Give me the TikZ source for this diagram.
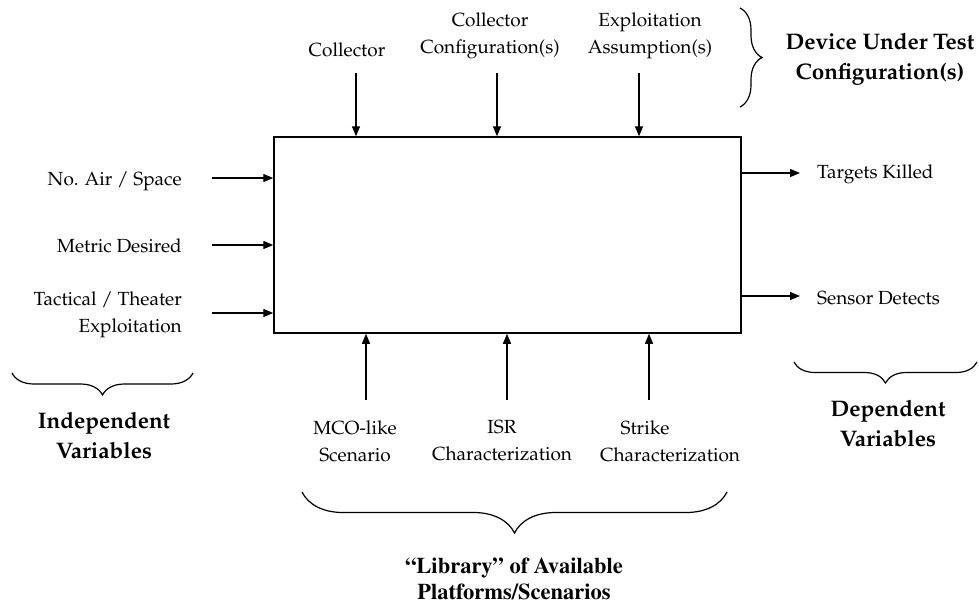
\documentclass[tikz,border=0pt]{standalone}
\usepackage[T1]{fontenc}
\usepackage{mathpazo}
\usetikzlibrary{arrows.meta,decorations.pathreplacing}
\tikzset{
  lbl/.style={inner sep=0pt, font=\fontsize{19}{27}\selectfont, align=center},
  blbl/.style={inner sep=0pt, font=\fontsize{22.5}{30}\selectfont\bfseries, align=center},
  tlbl/.style={inner sep=0pt, font=\fontfamily{ptm}\fontsize{22.5}{26}\selectfont\bfseries, align=center},
  arr/.style={line width=1.3pt, -{Triangle[length=10pt,width=8pt]}},
  brc/.style={line width=1.2pt, decorate},
  mainbox/.style={draw, line width=1.5pt, minimum width=467pt, minimum height=196pt, inner sep=0pt}
}
\begin{document}
\begin{tikzpicture}[x=1pt,y=-1pt]
\useasboundingbox (0,0) rectangle (979,605);
\node[mainbox] (box) at (507.5,235) {};
% top labels
\node[lbl] (t1) at (347,50) {Collector};
\node[lbl] (t2) at (490,36) {Collector\\Configuration(s)};
\node[lbl] (t3) at (650,36) {Exploitation\\Assumption(s)};
\coordinate (a1) at (356,73);
\coordinate (a2) at (497,73);
\coordinate (a3) at (639,73);
\draw[arr] (a1) -- (a1 |- box.north);
\draw[arr] (a2) -- (a2 |- box.north);
\draw[arr] (a3) -- (a3 |- box.north);
% left labels
\node[lbl, anchor=east] (l1) at (182,181) {No. Air / Space};
\node[lbl, anchor=east] (l2) at (182,246) {Metric Desired};
\node[lbl, anchor=east, align=right] (l3) at (182,315) {Tactical / Theater\\Exploitation};
\coordinate (b1) at (212,178);
\coordinate (b2) at (212,245);
\coordinate (b3) at (212,313);
\draw[arr] (b1) -- (b1 -| box.west);
\draw[arr] (b2) -- (b2 -| box.west);
\draw[arr] (b3) -- (b3 -| box.west);
% right labels
\node[lbl, anchor=west] (r1) at (817,174) {Targets Killed};
\node[lbl, anchor=west] (r2) at (817,298) {Sensor Detects};
\coordinate (c1) at (800,173);
\coordinate (c2) at (800,296);
\draw[arr] (c1 -| box.east) -- (c1);
\draw[arr] (c2 -| box.east) -- (c2);
% bottom labels
\node[lbl] (u1) at (355,441) {MCO-like\\Scenario};
\node[lbl] (u2) at (502,441) {ISR\\Characterization};
\node[lbl] (u3) at (670,441) {\hspace*{-50pt}Strike\\Characterization};
\coordinate (d1) at (366,400);
\coordinate (d2) at (507,400);
\coordinate (d3) at (649,400);
\draw[arr] (d1) -- (d1 |- box.south);
\draw[arr] (d2) -- (d2 |- box.south);
\draw[arr] (d3) -- (d3 |- box.south);
% braces
\coordinate (ta) at (740,8);
\coordinate (tb) at (740,107);
\draw[brc, decoration={brace, amplitude=22pt}] (ta) -- (tb);
\node[blbl] (dut) at (880,59) {Device Under Test\\Configuration(s)};
\coordinate (la) at (12,373);
\coordinate (lb) at (193,373);
\draw[brc, decoration={brace, amplitude=22pt}] (lb) -- (la);
\node[blbl] (iv) at (104,435) {Independent\\Variables};
\coordinate (ra) at (794,362);
\coordinate (rb) at (977,362);
\draw[brc, decoration={brace, amplitude=21pt}] (rb) -- (ra);
\node[blbl] (dv) at (888,423) {Dependent\\Variables};
\coordinate (ba) at (302,492);
\coordinate (bb) at (727,492);
\draw[brc, decoration={brace, amplitude=41pt}] (bb) -- (ba);
\node[tlbl] (lib) at (514,579) {``Library'' of Available\\Platforms/Scenarios};
\end{tikzpicture}
\end{document}
